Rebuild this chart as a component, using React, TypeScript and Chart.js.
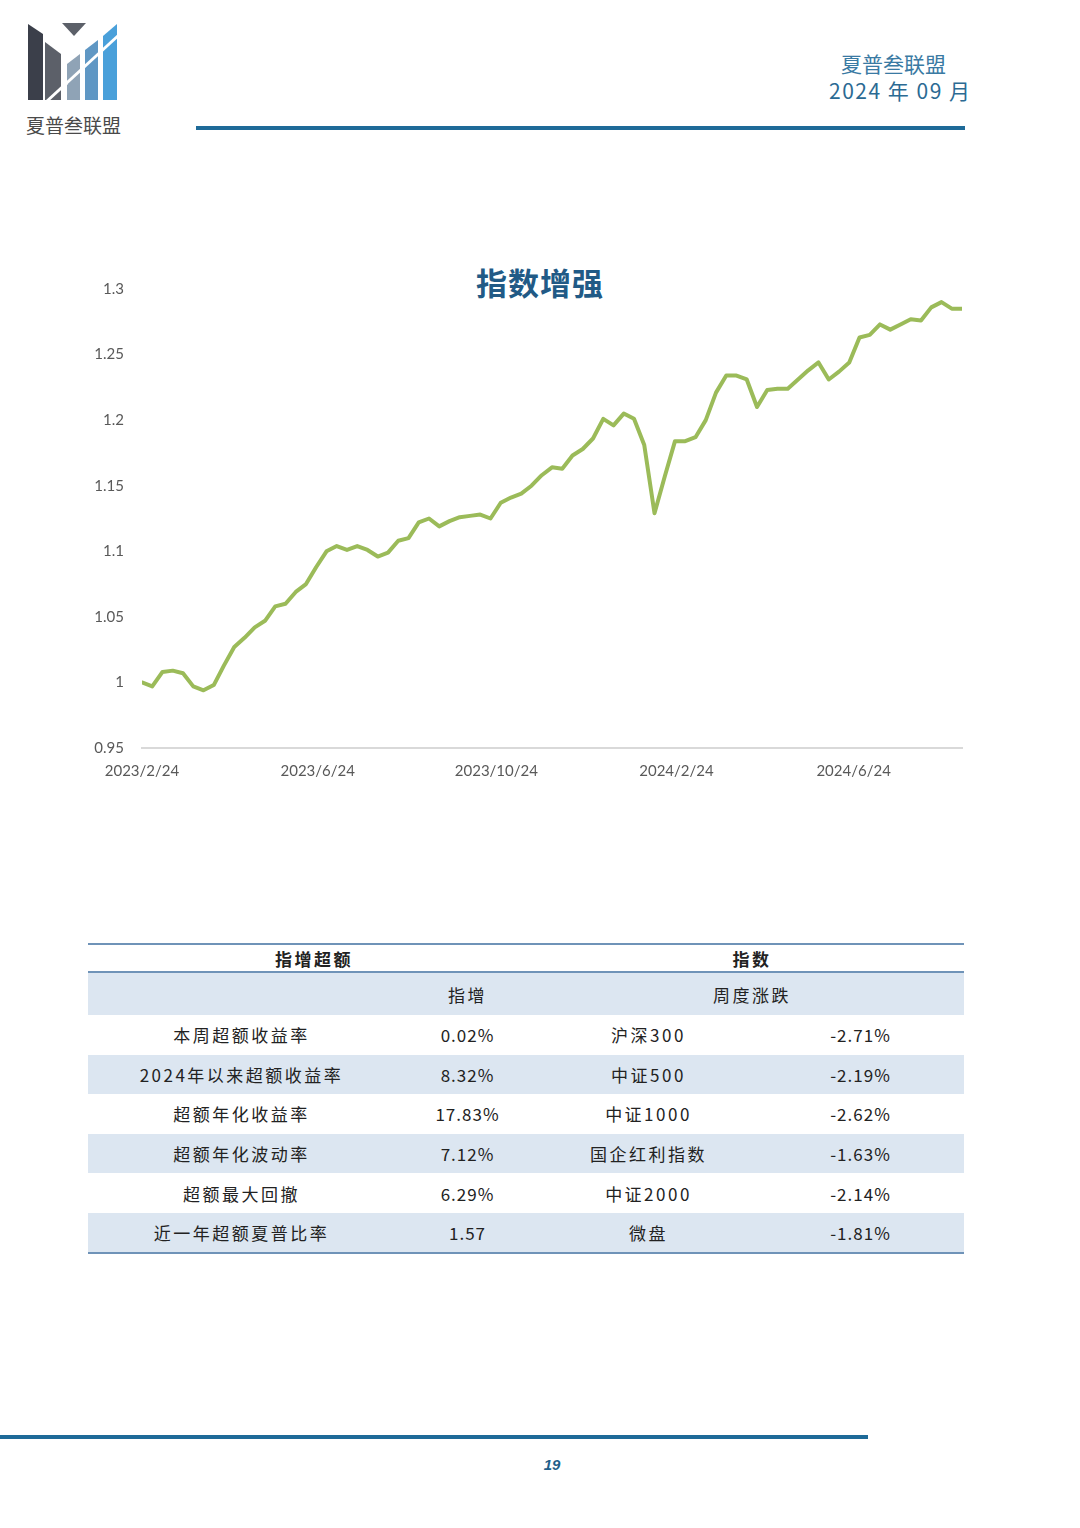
import React, { useEffect, useRef } from 'react';
import { Chart, registerables } from 'chart.js';

Chart.register(...registerables);

// ---- Data ----
const weekDates = [
  '2023/2/24', '2023/3/3', '2023/3/10', '2023/3/17', '2023/3/24', '2023/3/31', '2023/4/7', '2023/4/14', '2023/4/21', '2023/4/28',
  '2023/5/5', '2023/5/12', '2023/5/19', '2023/5/26', '2023/6/2', '2023/6/9', '2023/6/16', '2023/6/23', '2023/6/30', '2023/7/7',
  '2023/7/14', '2023/7/21', '2023/7/28', '2023/8/4', '2023/8/11', '2023/8/18', '2023/8/25', '2023/9/1', '2023/9/8', '2023/9/15',
  '2023/9/22', '2023/9/29', '2023/10/6', '2023/10/13', '2023/10/20', '2023/10/27', '2023/11/3', '2023/11/10', '2023/11/17', '2023/11/24',
  '2023/12/1', '2023/12/8', '2023/12/15', '2023/12/22', '2023/12/29', '2024/1/5', '2024/1/12', '2024/1/19', '2024/1/26', '2024/2/2',
  '2024/2/9', '2024/2/16', '2024/2/23', '2024/3/1', '2024/3/8', '2024/3/15', '2024/3/22', '2024/3/29', '2024/4/5', '2024/4/12',
  '2024/4/19', '2024/4/26', '2024/5/3', '2024/5/10', '2024/5/17', '2024/5/24', '2024/5/31', '2024/6/7', '2024/6/14', '2024/6/21',
  '2024/6/28', '2024/7/5', '2024/7/12', '2024/7/19', '2024/7/26', '2024/8/2', '2024/8/9', '2024/8/16', '2024/8/23', '2024/8/30',
  '2024/9/6',
];

const indexValues = [
  1.000, 0.997, 1.008, 1.009, 1.007, 0.997, 0.994, 0.998, 1.013, 1.027,
  1.034, 1.042, 1.047, 1.058, 1.060, 1.069, 1.075, 1.088, 1.100, 1.104,
  1.101, 1.104, 1.101, 1.096, 1.099, 1.108, 1.110, 1.122, 1.125, 1.119,
  1.123, 1.126, 1.127, 1.128, 1.125, 1.137, 1.141, 1.144, 1.150, 1.158,
  1.164, 1.163, 1.173, 1.178, 1.186, 1.201, 1.196, 1.205, 1.201, 1.181,
  1.129, 1.157, 1.184, 1.184, 1.187, 1.200, 1.221, 1.234, 1.234, 1.231,
  1.210, 1.223, 1.224, 1.224, 1.231, 1.238, 1.244, 1.231, 1.237, 1.244,
  1.263, 1.265, 1.273, 1.269, 1.273, 1.277, 1.276, 1.286, 1.290, 1.285,
  1.285,
];

const xTickLabels = ['2023/2/24', '2023/6/24', '2023/10/24', '2024/2/24', '2024/6/24'];
const yTickValues = [0.95, 1, 1.05, 1.1, 1.15, 1.2, 1.25, 1.3];

const metricNames = ['本周超额收益率', '2024年以来超额收益率', '超额年化收益率', '超额年化波动率', '超额最大回撤', '近一年超额夏普比率'];
const metricValues = ['0.02%', '8.32%', '17.83%', '7.12%', '6.29%', '1.57'];
const indexNames = ['沪深300', '中证500', '中证1000', '国企红利指数', '中证2000', '微盘'];
const indexChanges = ['-2.71%', '-2.19%', '-2.62%', '-1.63%', '-2.14%', '-1.81%'];

// ---- helpers ----
const toUTC = (s: string) => {
  const [y, m, d] = s.split('/').map(Number);
  return Date.UTC(y, m - 1, d);
};
const baseTime = toUTC(weekDates[0]);
const dayOf = (s: string) => Math.round((toUTC(s) - baseTime) / 86400000);
const xTickValues = xTickLabels.map(dayOf);
const xMax = dayOf(weekDates[weekDates.length - 1]);

const CJK = '"Noto Sans CJK SC", "Noto Sans", sans-serif';
const BLUE = '#1e6a98';

function Logo() {
  return (
    <svg width="100" height="84" viewBox="0 0 100 84" style={{ position: 'absolute', left: 24, top: 20 }}>
      <polygon points="4,4 19,14 19,80 4,80" fill="#3b3f4a" />
      <polygon points="21,22 37,34 37,80 21,80" fill="#5c6069" />
      <polygon points="38,3 62,3 50,16" fill="#5c6069" />
      <polygon points="43,44 56,34 56,80 43,80" fill="#8fa3b6" />
      <polygon points="61,30 74,20 74,80 61,80" fill="#5f97c4" />
      <polygon points="79,16 93,4 93,80 79,80" fill="#4aa0da" />
      <line x1="22" y1="82" x2="96" y2="14" stroke="#ffffff" strokeWidth="3" />
      <polygon points="38,58 44,64 38,70" fill="#ffffff" />
    </svg>
  );
}

function LineChart() {
  const ref = useRef<HTMLCanvasElement | null>(null);
  useEffect(() => {
    if (!ref.current) return;
    const labelMap: Record<number, string> = {};
    xTickValues.forEach((v, i) => { labelMap[v] = xTickLabels[i]; });
    const chart = new Chart(ref.current, {
      type: 'line',
      data: {
        datasets: [
          {
            label: '指数增强',
            data: weekDates.map((d, i) => ({ x: dayOf(d), y: indexValues[i] })),
            borderColor: '#9bbb59',
            backgroundColor: '#9bbb59',
            borderWidth: 4,
            pointRadius: 0,
            tension: 0,
            borderCapStyle: 'round',
            borderJoinStyle: 'round',
          },
        ],
      },
      options: {
        animation: false,
        responsive: false,
        maintainAspectRatio: false,
        layout: { padding: { top: 10, right: 38, left: 0, bottom: 0 } },
        plugins: {
          legend: { display: false },
          title: { display: false },
          tooltip: { enabled: false },
        },
        scales: {
          x: {
            type: 'linear',
            min: 0,
            max: xMax,
            grid: { display: false, drawTicks: false },
            border: { display: true, color: '#d9d9d9', width: 2 },
            ticks: {
              padding: 14,
              color: '#595959',
              font: { family: 'Lato, "Noto Sans", sans-serif', size: 15 },
              maxRotation: 0,
              autoSkip: false,
              callback: (v: any) => labelMap[Number(v)] ?? '',
            },
            afterBuildTicks: (axis: any) => {
              axis.ticks = xTickValues.map((v) => ({ value: v }));
            },
            afterFit: (axis: any) => {
              axis.height = 32;
            },
          },
          y: {
            type: 'linear',
            min: 0.95,
            max: 1.3,
            grid: { display: false, drawTicks: false },
            border: { display: false },
            ticks: {
              padding: 18,
              color: '#595959',
              font: { family: 'Lato, "Noto Sans", sans-serif', size: 15 },
              callback: (v: any) => String(Number(Number(v).toFixed(2))),
            },
            afterBuildTicks: (axis: any) => {
              axis.ticks = yTickValues.map((v) => ({ value: v }));
            },
            afterFit: (axis: any) => {
              axis.width = 62;
            },
          },
        },
      },
    });
    return () => chart.destroy();
  }, []);
  return (
    <canvas
      ref={ref}
      width={920}
      height={518}
      style={{ position: 'absolute', left: 80, top: 262, width: 920, height: 518 }}
    />
  );
}

export default function App() {
  const lineC = '#6f93b8';
  const cell: React.CSSProperties = { textAlign: 'center', padding: 0, fontWeight: 400, letterSpacing: '2.5px' };
  const num: React.CSSProperties = { textAlign: 'center', padding: 0, fontWeight: 400, letterSpacing: '1px' };
  return (
    <div
      style={{
        position: 'absolute',
        left: 0,
        top: 0,
        width: 1080,
        height: 1528,
        background: '#ffffff',
        overflow: 'hidden',
        fontFamily: CJK,
      }}
    >
      <Logo />
      <div style={{ position: 'absolute', left: 26, top: 111, fontSize: 19, color: '#4a4a4a' }}>夏普叁联盟</div>

      <div style={{ position: 'absolute', left: 841, top: 50, fontSize: 21, color: '#3a7aa3', lineHeight: '26px' }}>夏普叁联盟</div>
      <div style={{ position: 'absolute', left: 829, top: 77, fontSize: 21, color: '#2b6a93', lineHeight: '26px', whiteSpace: 'pre', letterSpacing: '1.5px' }}>2024 年 09 月</div>
      <div style={{ position: 'absolute', left: 196, top: 126, width: 769, height: 4, background: BLUE }} />

      <div
        style={{
          position: 'absolute',
          left: 340,
          top: 262,
          width: 400,
          textAlign: 'center',
          fontSize: 31,
          fontWeight: 700,
          color: '#215a86',
          lineHeight: '40px',
          letterSpacing: '1px',
        }}
      >
        指数增强
      </div>
      <LineChart />

      <table
        style={{
          position: 'absolute',
          left: 88,
          top: 943,
          width: 876,
          borderCollapse: 'collapse',
          tableLayout: 'fixed',
          fontSize: 17,
          color: '#222',
        }}
      >
        <colgroup>
          <col style={{ width: 307 }} />
          <col style={{ width: 145 }} />
          <col style={{ width: 217 }} />
          <col style={{ width: 207 }} />
        </colgroup>
        <tbody>
          <tr style={{ height: 28, borderTop: `2px solid ${lineC}`, borderBottom: `2px solid ${lineC}` }}>
            <td colSpan={2} style={{ ...cell, fontWeight: 700 }}>指增超额</td>
            <td colSpan={2} style={{ ...cell, fontWeight: 700 }}>指数</td>
          </tr>
          <tr style={{ height: 43, background: '#dce6f1' }}>
            <td style={cell}></td>
            <td style={cell}>指增</td>
            <td colSpan={2} style={cell}>周度涨跌</td>
          </tr>
          {metricNames.map((name, i) => (
            <tr
              key={name}
              style={{
                height: 39.6,
                background: i % 2 === 1 ? '#dce6f1' : '#ffffff',
                borderBottom: i === metricNames.length - 1 ? `2px solid ${lineC}` : 'none',
              }}
            >
              <td style={cell}>{name}</td>
              <td style={num}>{metricValues[i]}</td>
              <td style={cell}>{indexNames[i]}</td>
              <td style={num}>{indexChanges[i]}</td>
            </tr>
          ))}
        </tbody>
      </table>

      <div style={{ position: 'absolute', left: 0, top: 1435, width: 868, height: 4, background: BLUE }} />
      <div
        style={{
          position: 'absolute',
          left: 0,
          top: 1456,
          width: 1104,
          textAlign: 'center',
          fontSize: 15,
          fontWeight: 700,
          fontStyle: 'italic',
          color: '#1f5e8a',
          fontFamily: '"Liberation Sans", sans-serif',
        }}
      >
        19
      </div>
    </div>
  );
}
